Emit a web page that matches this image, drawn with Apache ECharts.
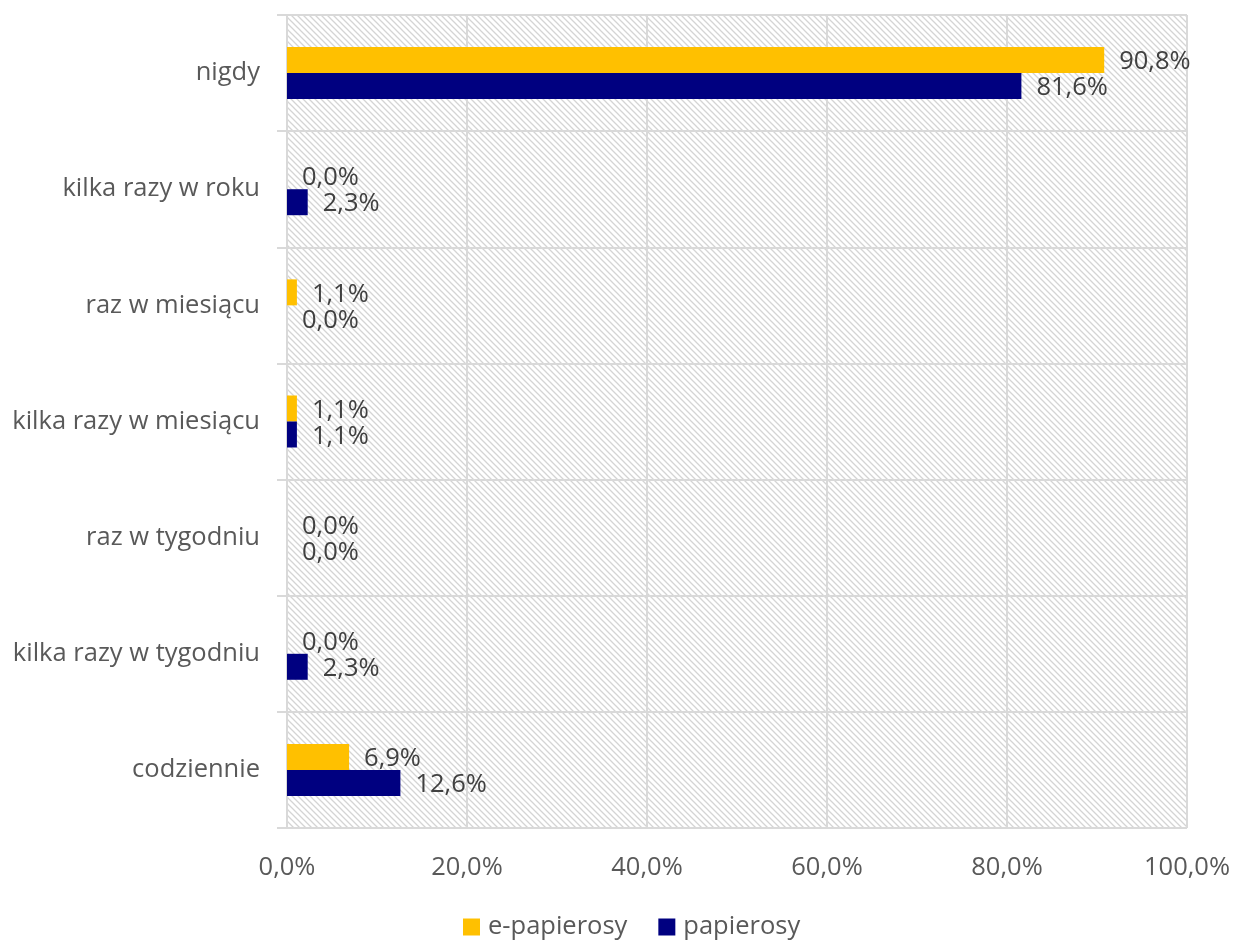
<!DOCTYPE html>
<html><head><meta charset="utf-8">
<script src="https://cdn.jsdelivr.net/npm/echarts@6/dist/echarts.min.js"></script>
<style>html,body{margin:0;padding:0;background:#fff}#c{width:1234px;height:940px}</style>
</head><body><div id="c"></div>
<script>
const categories = ['nigdy','kilka razy w roku','raz w miesiącu','kilka razy w miesiącu','raz w tygodniu','kilka razy w tygodniu','codziennie'];
const ePapierosy = [90.8, 0.0, 1.1, 1.1, 0.0, 0.0, 6.9];
const papierosy = [81.6, 2.3, 0.0, 1.1, 0.0, 2.3, 12.6];
const seriesNames = ['e-papierosy','papierosy'];
const xTicks = [0,20,40,60,80,100];

const pc = document.createElement('canvas');
pc.width = 6; pc.height = 6;
const g = pc.getContext('2d');
g.fillStyle = '#ffffff'; g.fillRect(0,0,6,6);
g.strokeStyle = '#d4d4d4'; g.lineWidth = 1.3;
g.beginPath();
g.moveTo(-1,-1); g.lineTo(7,7);
g.moveTo(-1,5); g.lineTo(1,7);
g.moveTo(5,-1); g.lineTo(7,1);
g.stroke();

const fmt = v => v.toFixed(1).replace('.', ',') + '%';
const font = "'Open Sans', sans-serif";
const fs = 25.5;
const chart = echarts.init(document.getElementById('c'));
chart.setOption({
  animation: false,
  textStyle: {fontFamily: font},
  grid: {left: 287, right: 47, top: 15, bottom: 112, show: true, borderWidth: 0,
         backgroundColor: {image: pc, repeat: 'repeat'}},
  legend: {bottom: 0, left: 463, padding: 0, itemWidth: 17, itemHeight: 17, itemGap: 31,
           icon: 'rect', textStyle: {fontSize: fs, color: '#595959', fontFamily: font, padding: [0,0,0,3]},
           data: seriesNames},
  xAxis: {type: 'value', min: xTicks[0], max: xTicks[xTicks.length-1], interval: 20,
          axisLine: {show: false}, axisTick: {show: false},
          axisLabel: {fontSize: fs, color: '#595959', margin: 27, formatter: v => fmt(v)},
          splitLine: {show: true, lineStyle: {color: '#d9d9d9', width: 2}}},
  yAxis: {type: 'category', data: categories, inverse: true,
          axisLine: {show: true, lineStyle: {color: '#d9d9d9', width: 2}},
          axisTick: {show: true, length: 10, lineStyle: {color: '#d9d9d9', width: 2}},
          axisLabel: {fontSize: fs, color: '#595959', margin: 27},
          splitLine: {show: true, lineStyle: {color: '#d9d9d9', width: 2}}},
  series: [
    {name: seriesNames[0], type: 'bar', data: ePapierosy, barWidth: 26, barGap: '0%',
     itemStyle: {color: '#ffc000'},
     label: {show: true, position: 'right', distance: 15, offset: [0, 2], fontSize: fs, color: '#404040', formatter: p => fmt(p.value)}},
    {name: seriesNames[1], type: 'bar', data: papierosy, barWidth: 26, barGap: '0%',
     itemStyle: {color: '#000080'},
     label: {show: true, position: 'right', distance: 15, offset: [0, 2], fontSize: fs, color: '#404040', formatter: p => fmt(p.value)}}
  ]
});
</script></body></html>
